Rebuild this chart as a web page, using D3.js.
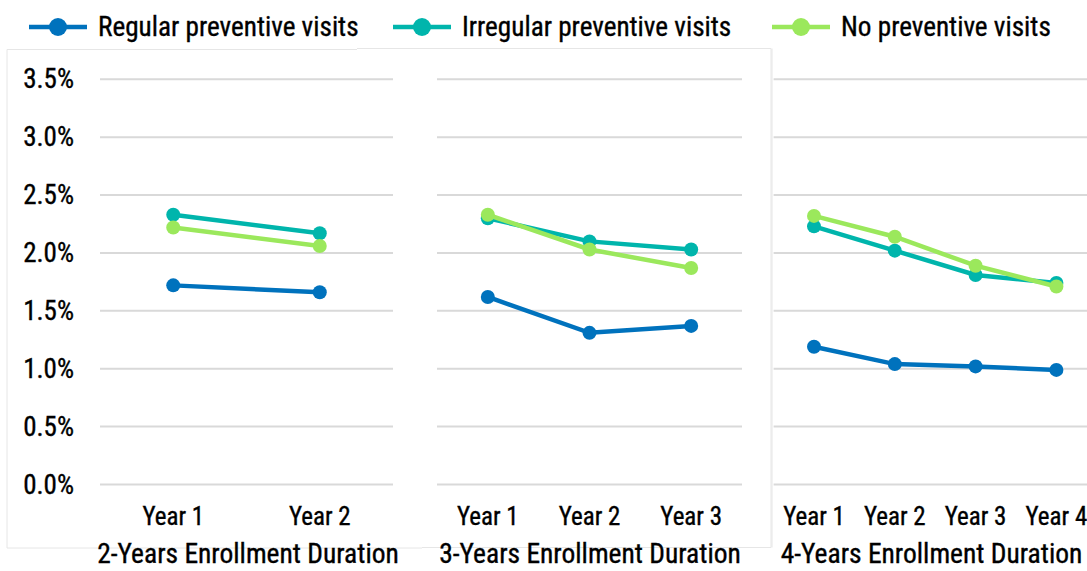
<!DOCTYPE html>
<html><head><meta charset="utf-8">
<script src="https://cdn.jsdelivr.net/npm/d3@7"></script>
<style>
body{margin:0;background:#fff;}
text{font-family:"Liberation Sans Narrow","Roboto Condensed","DejaVu Sans Condensed",sans-serif;fill:#000;font-weight:400;stroke:#000;stroke-width:0.35px;}
</style></head>
<body><svg id="c" width="1087" height="571"></svg>
<script>
const seriesNames = ["Regular preventive visits","Irregular preventive visits","No preventive visits"];
const seriesColors = ["#0072BD","#00B5AC","#9BE85C"];
const panelTitles = ["2-Years Enrollment Duration","3-Years Enrollment Duration","4-Years Enrollment Duration"];
const panelYears = [["Year 1","Year 2"],["Year 1","Year 2","Year 3"],["Year 1","Year 2","Year 3","Year 4"]];
const regular   = [[1.72,1.66],[1.62,1.31,1.37],[1.19,1.04,1.02,0.99]];
const irregular = [[2.33,2.17],[2.30,2.10,2.03],[2.23,2.02,1.81,1.74]];
const noVisits  = [[2.22,2.06],[2.33,2.03,1.87],[2.32,2.14,1.89,1.71]];
const yTicks = [0,0.5,1.0,1.5,2.0,2.5,3.0,3.5];
const yTickLabels = ["0.0%","0.5%","1.0%","1.5%","2.0%","2.5%","3.0%","3.5%"];

const FONT = '"Liberation Sans Narrow","Roboto Condensed","DejaVu Sans Condensed",sans-serif';
const svg = d3.select("#c");
const y = d3.scaleLinear().domain([0,3.5]).range([484.5,79.3]);
const panelRanges = [[100,393],[437,742],[773.6,1096.8]];
const titleX = [248,590,931.5];
const allSeries = [regular, irregular, noVisits];

const bc = "#e6e6e6";
const borders = [
  [7,49.5,357,49.5],[7,49.5,7,548],[7,548,422,548],
  [357,48.5,771,48.5],[422,547.5,771,547.5],[771,48.5,771,547.5],
  [772,48.5,772,547.5]
];
svg.selectAll("line.border").data(borders).enter().append("line")
  .attr("x1",d=>d[0]).attr("y1",d=>d[1]).attr("x2",d=>d[2]).attr("y2",d=>d[3])
  .attr("stroke",bc).attr("stroke-width",1);

panelYears.forEach((years,p)=>{
  const g = svg.append("g");
  const x = d3.scaleBand().domain(years).range(panelRanges[p]);
  const gridEnd = Math.min(panelRanges[p][1],1087);
  g.selectAll("line.grid").data(yTicks).enter().append("line")
    .attr("x1",panelRanges[p][0]).attr("x2",gridEnd)
    .attr("y1",d=>y(d)).attr("y2",d=>y(d))
    .attr("stroke","#d9d9d9").attr("stroke-width",2);
  const xa = d3.axisBottom(x).tickSize(0).tickPadding(0);
  const xg = g.append("g").attr("transform","translate(0,525)").call(xa);
  xg.select(".domain").remove();
  xg.selectAll("text").attr("font-size",25).attr("dy","0")
    .style("font-family",FONT).attr("fill","#000");
  g.append("text").attr("x",titleX[p]).attr("y",563)
    .attr("text-anchor","middle").attr("font-size",27.5).text(panelTitles[p]);
  allSeries.forEach((s,si)=>{
    const vals = s[p].map((v,i)=>({k:years[i],v}));
    const line = d3.line().x(d=>x(d.k)+x.bandwidth()/2).y(d=>y(d.v));
    g.append("path").datum(vals).attr("d",line).attr("fill","none")
      .attr("stroke",seriesColors[si]).attr("stroke-width",4.5);
    g.selectAll("circle.s"+si).data(vals).enter().append("circle")
      .attr("cx",d=>x(d.k)+x.bandwidth()/2).attr("cy",d=>y(d.v)).attr("r",7)
      .attr("fill",seriesColors[si]);
  });
});

const ya = d3.axisLeft(y).tickValues(yTicks).tickFormat((d,i)=>yTickLabels[i]).tickSize(0).tickPadding(0);
const yg = svg.append("g").attr("transform","translate(74,0)").call(ya);
yg.select(".domain").remove();
yg.selectAll("text").attr("font-size",27).attr("fill","#000")
  .style("font-family",FONT);

const legX = [29,393,772];
seriesNames.forEach((n,i)=>{
  const g = svg.append("g").attr("transform",`translate(${legX[i]},27)`);
  g.append("line").attr("x1",0).attr("x2",58).attr("y1",0).attr("y2",0)
    .attr("stroke",seriesColors[i]).attr("stroke-width",4.5);
  g.append("circle").attr("cx",29).attr("cy",0).attr("r",9).attr("fill",seriesColors[i]);
  g.append("text").attr("x",69).attr("y",9).attr("font-size",27.2).text(n);
});
</script></body></html>
